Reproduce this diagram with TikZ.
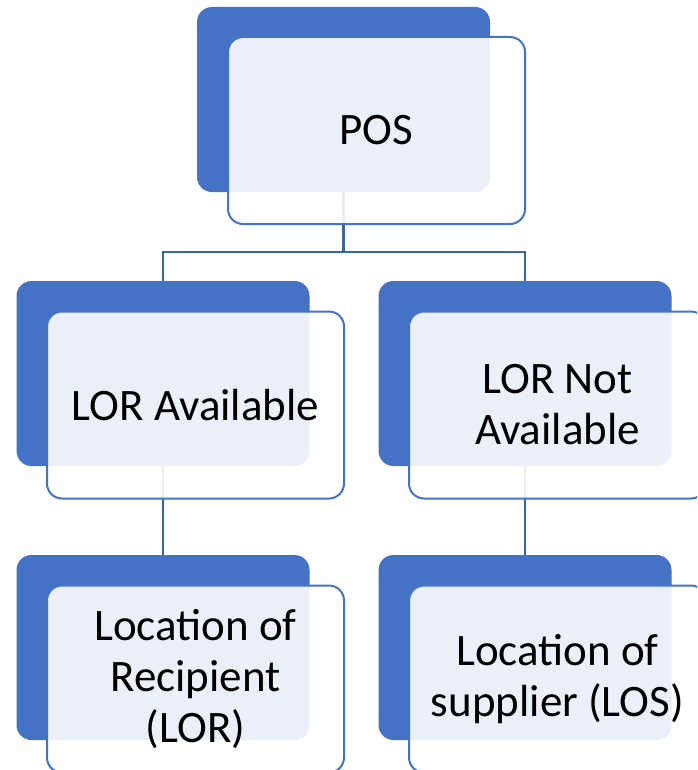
\documentclass[tikz,border=0pt]{standalone}
\usepackage{fontspec}
\setmainfont{Carlito}
\usetikzlibrary{backgrounds}
\definecolor{accent}{HTML}{4472C4}
\definecolor{linkblue}{HTML}{3A62AA}
\tikzset{
  backbox/.style={draw=none, fill=accent, rounded corners=15pt,
    minimum width=293pt, minimum height=185pt, inner sep=0pt},
  frontbox/.style={draw=accent, line width=2pt, fill=white, fill opacity=0.89,
    text opacity=1, rounded corners=15pt, minimum width=297pt, minimum height=187pt,
    inner sep=0pt, align=center, font=\fontsize{45}{51}\selectfont},
  link/.style={draw=linkblue, line width=2.2pt}
}
\begin{document}
\begin{tikzpicture}[x=1pt,y=1pt]
  \clip (0,0) rectangle (697,-770);
  % top level
  \node[backbox]  (b0) at (343.5,-99.5) {};
  \node[frontbox] (f0) at (376.5,-130.5) {POS};
  % second level
  \node[backbox]  (b1) at (163,-373.5) {};
  \node[frontbox] (f1) at (195.5,-405) {LOR Available};
  \node[backbox]  (b2) at (525,-373.5) {};
  \node[frontbox] (f2) at (557.5,-405) {LOR Not\\Available};
  % third level
  \node[backbox]  (b3) at (163,-647.5) {};
  \node[frontbox] (f3) at (195.5,-679) {Location of\\Recipient\\(LOR)};
  \node[backbox]  (b4) at (525,-647.5) {};
  \node[frontbox] (f4) at (557.5,-679) {Location of\\supplier (LOS)};
  % connectors behind the boxes
  \coordinate (bus) at (343.5,-252);
  \begin{scope}[on background layer]
    \draw[link] (b0.south) -- (bus) -| (b1.north);
    \draw[link] (bus) -| (b2.north);
    \draw[link] (b1.south) -- (b3.north);
    \draw[link] (b2.south) -- (b4.north);
  \end{scope}
\end{tikzpicture}
\end{document}
